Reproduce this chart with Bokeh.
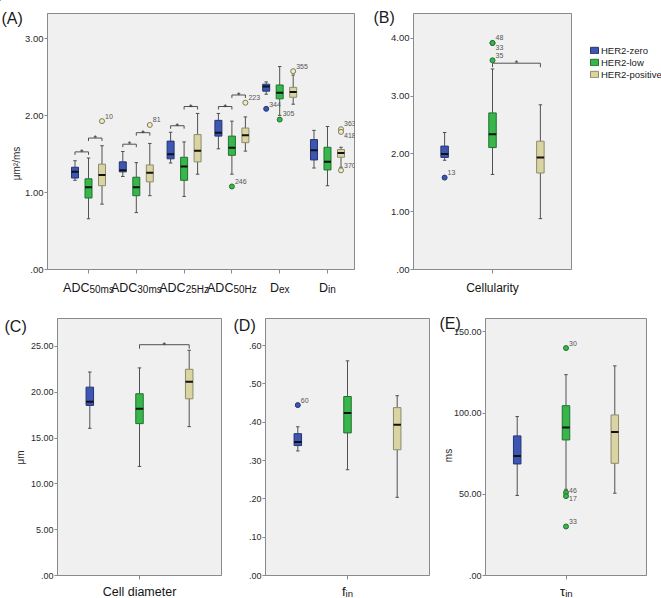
import math

from bokeh.core.properties import value
from bokeh.embed import file_html
from bokeh.layouts import column, row
from bokeh.models import (ColumnDataSource, CustomJSTickFormatter, FixedTicker, GridBox,
                          Legend, LegendItem, Range1d)
from bokeh.plotting import figure
from bokeh.resources import INLINE

FONT = "Liberation Sans"
GROUPS = ["HER2-zero", "HER2-low", "HER2-positive"]
FILLS = ["#3d55b3", "#37b64c", "#d9d4a2"]
EDGES = ["#25356f", "#23702f", "#8d8a6c"]
OUT_FILLS = ["#3d55b3", "#37b64c", "#efecc9"]
OUT_EDGES = ["#25356f", "#23702f", "#7d7a55"]
PLOT_BG = "#f0f0f0"
FRAME = "#8a8a8a"
WHISKER = "#505050"
PAGE_W, PAGE_H = 661, 598

# ---------------- (A) diffusivities, six parameters x three groups ----------------
a_label_main = ["ADC", "ADC", "ADC", "ADC", "D", "D"]
a_label_sub = ["50ms", "30ms", "25Hz", "50Hz", "ex", "in"]
a_yticks = [0.0, 1.0, 2.0, 3.0]

a_lo_zero = [1.16, 1.21, 1.385, 1.57, 2.28, 1.32]
a_q1_zero = [1.19, 1.27, 1.44, 1.735, 2.32, 1.425]
a_med_zero = [1.27, 1.29, 1.50, 1.78, 2.38, 1.55]
a_q3_zero = [1.33, 1.40, 1.67, 1.94, 2.41, 1.69]
a_hi_zero = [1.415, 1.535, 1.785, 2.03, 2.44, 1.81]

a_lo_low = [0.66, 0.74, 0.95, 1.24, 2.005, 1.09]
a_q1_low = [0.93, 0.96, 1.16, 1.485, 2.22, 1.295]
a_med_low = [1.07, 1.07, 1.34, 1.585, 2.30, 1.40]
a_q3_low = [1.18, 1.20, 1.46, 1.735, 2.40, 1.59]
a_hi_low = [1.45, 1.39, 1.66, 1.93, 2.64, 1.86]

a_lo_pos = [0.85, 0.96, 1.24, 1.54, 2.15, 1.33]
a_q1_pos = [1.09, 1.14, 1.40, 1.65, 2.24, 1.46]
a_med_pos = [1.23, 1.26, 1.545, 1.745, 2.31, 1.515]
a_q3_pos = [1.37, 1.36, 1.755, 1.84, 2.37, 1.56]
a_hi_pos = [1.61, 1.64, 2.03, 1.985, 2.53, 1.59]

a_out_cat = [0, 1, 3, 3, 4, 4, 4, 5, 5, 5]
a_out_group = [2, 2, 1, 2, 0, 1, 2, 2, 2, 2]
a_out_value = [1.93, 1.88, 1.08, 2.17, 2.09, 1.95, 2.58, 1.825, 1.79, 1.29]
a_out_case = ["10", "81", "246", "223", "344", "305", "355", "363", "418", "370"]
a_out_dy = [-5, -5, -5, -5, -4, -6, -5, -6, 4, -5]

a_sig_cat = [0, 0, 1, 1, 2, 2, 3, 3]
a_sig_from = [0, 1, 0, 1, 0, 1, 0, 1]
a_sig_to = [1, 2, 1, 2, 1, 2, 1, 2]
a_sig_y = [1.53, 1.71, 1.63, 1.78, 1.87, 2.12, 2.12, 2.27]

# ---------------- (B) cellularity ----------------
b_yticks = [0.0, 1.0, 2.0, 3.0, 4.0]
b_lo = [1.89, 1.645, 0.88]
b_q1 = [1.94, 2.11, 1.67]
b_med = [2.00, 2.34, 1.94]
b_q3 = [2.135, 2.71, 2.22]
b_hi = [2.37, 3.47, 2.85]
b_out_group = [0, 1, 1, 1]
b_out_value = [1.59, 3.92, 3.92, 3.62]
b_out_case = ["13", "48", "33", "35"]
b_out_dy = [-5, -5, 5, -5]
b_sig_from, b_sig_to, b_sig_y = [1], [2], [3.57]

# ---------------- (C) cell diameter ----------------
c_yticks = [0.0, 5.0, 10.0, 15.0, 20.0, 25.0]
c_lo = [16.06, 11.9, 16.24]
c_q1 = [18.56, 16.57, 19.28]
c_med = [18.96, 18.2, 21.13]
c_q3 = [20.55, 19.83, 22.5]
c_hi = [22.2, 22.65, 24.57]
c_sig_from, c_sig_to, c_sig_y = [1], [2], [25.18]

# ---------------- (D) intracellular fraction ----------------
d_yticks = [0.0, 0.1, 0.2, 0.3, 0.4, 0.5, 0.6]
d_lo = [0.325, 0.276, 0.204]
d_q1 = [0.339, 0.372, 0.328]
d_med = [0.348, 0.424, 0.393]
d_q3 = [0.370, 0.467, 0.438]
d_hi = [0.388, 0.560, 0.469]
d_out_group = [0]
d_out_value = [0.4445]
d_out_case = ["60"]
d_out_dy = [-5]

# ---------------- (E) intracellular water exchange time ----------------
e_yticks = [0.0, 50.0, 100.0, 150.0]
e_lo = [49.3, 53.1, 50.7]
e_q1 = [68.7, 83.5, 69.1]
e_med = [73.6, 91.2, 88.4]
e_q3 = [86.0, 104.6, 98.9]
e_hi = [97.9, 123.7, 129.1]
e_out_group = [1, 1, 1, 1]
e_out_value = [140.1, 51.1, 48.9, 30.2]
e_out_case = ["30", "46", "17", "33"]
e_out_dy = [-5, -2, 2, -5]

# Arial-compatible advance widths (em) used to centre the subscripted labels
CHAR_W = {"A": .667, "D": .722, "C": .722, "H": .722, "m": .833, "s": .5, "z": .5,
          "e": .556, "x": .5, "i": .222, "n": .556, "f": .278, "τ": .44}

# geometry of every panel on the page, keyed by figure id
GEOM = {}


def text_width(s, size):
    return sum(CHAR_W.get(ch, .556) for ch in s) * size


def make_panel(origin, width, height, borders, x_range, y_range, yticks, xticks, tick_size):
    left, right, top, bottom = borders
    p = figure(width=width, height=height,
               x_range=Range1d(*x_range), y_range=Range1d(*y_range),
               output_backend="svg", toolbar_location=None,
               min_border_left=left, min_border_right=right,
               min_border_top=top, min_border_bottom=bottom)
    p.background_fill_color = PLOT_BG
    p.border_fill_color = "white"
    p.outline_line_color = FRAME
    p.grid.visible = False

    ya = p.yaxis[0]
    ya.ticker = FixedTicker(ticks=yticks)
    ya.formatter = CustomJSTickFormatter(code="return tick.toFixed(2).replace(/^0\\./, '.');")
    ya.major_tick_out = 3
    ya.major_tick_in = 0
    ya.minor_tick_line_color = None
    ya.axis_line_color = FRAME
    ya.major_tick_line_color = FRAME
    ya.major_label_standoff = 1
    ya.major_label_text_font = FONT
    ya.major_label_text_font_size = tick_size
    ya.major_label_text_color = "#2a2a2a"

    xa = p.xaxis[0]
    xa.ticker = FixedTicker(ticks=xticks)
    xa.formatter = CustomJSTickFormatter(code="return '';")
    xa.major_tick_out = 4
    xa.major_tick_in = 0
    xa.minor_tick_line_color = None
    xa.axis_line_color = FRAME
    xa.major_tick_line_color = FRAME

    fw = width - left - right
    fh = height - top - bottom
    GEOM[p.id] = dict(px_x=fw / (x_range[1] - x_range[0]),
                      px_y=fh / (y_range[1] - y_range[0]),
                      x0=x_range[0], fl=origin[0] + left, ft=origin[1] + top,
                      fw=fw, fh=fh)
    return p


def page_x(p, x):
    g = GEOM[p.id]
    return g["fl"] + (x - g["x0"]) * g["px_x"]


def draw_group(p, xs, lo, q1, med, q3, hi, g, box_px=7.3, cap_px=3.5):
    px_x = GEOM[p.id]["px_x"]
    bw = box_px / px_x
    cw = cap_px / px_x
    src = ColumnDataSource(dict(
        x=xs, lo=lo, q1=q1, med=med, q3=q3, hi=hi,
        bl=[x - bw / 2 for x in xs], br=[x + bw / 2 for x in xs],
        cl=[x - cw / 2 for x in xs], cr=[x + cw / 2 for x in xs]))
    p.segment(x0="x", y0="q3", x1="x", y1="hi", source=src, line_color=WHISKER, line_width=1)
    p.segment(x0="x", y0="lo", x1="x", y1="q1", source=src, line_color=WHISKER, line_width=1)
    p.segment(x0="cl", y0="hi", x1="cr", y1="hi", source=src, line_color=WHISKER, line_width=1)
    p.segment(x0="cl", y0="lo", x1="cr", y1="lo", source=src, line_color=WHISKER, line_width=1)
    r = p.vbar(x="x", width=bw, bottom="q1", top="q3", source=src,
               fill_color=FILLS[g], line_color=EDGES[g], line_width=1)
    p.segment(x0="bl", y0="med", x1="br", y1="med", source=src, line_color="#111111", line_width=2)
    return r


def draw_outliers(p, xs, groups, values, cases, dys):
    for g in range(3):
        idx = [i for i, gg in enumerate(groups) if gg == g]
        if not idx:
            continue
        p.scatter(x=[xs[i] for i in idx], y=[values[i] for i in idx], size=5, marker="circle",
                  fill_color=OUT_FILLS[g], line_color=OUT_EDGES[g], line_width=1)
    src = ColumnDataSource(dict(x=xs, y=values, t=cases, dy=dys))
    p.text(x="x", y="y", text="t", source=src, x_offset=3, y_offset="dy",
           text_font_size="7px", text_color="#555555", text_baseline="middle",
           text_align="left", text_font=value(FONT))


def draw_brackets(p, x_from, x_to, ys, drop_px=4):
    drop = drop_px / GEOM[p.id]["px_y"]
    src = ColumnDataSource(dict(
        x0=x_from, x1=x_to, y=ys, yd=[y - drop for y in ys],
        xm=[(a + b) / 2 for a, b in zip(x_from, x_to)], star=["*"] * len(ys)))
    p.segment(x0="x0", y0="y", x1="x1", y1="y", source=src, line_color=WHISKER, line_width=1)
    p.segment(x0="x0", y0="y", x1="x0", y1="yd", source=src, line_color=WHISKER, line_width=1)
    p.segment(x0="x1", y0="y", x1="x1", y1="yd", source=src, line_color=WHISKER, line_width=1)
    p.text(x="xm", y="y", text="star", source=src, y_offset=0, text_align="center",
           text_baseline="middle", text_font_size="9px", text_color="#333333",
           text_font=value(FONT))


# Transparent page-sized layer that carries the texts sitting outside the plot frames
ov = figure(width=PAGE_W, height=PAGE_H, x_range=Range1d(0, PAGE_W), y_range=Range1d(PAGE_H, 0),
            output_backend="svg", toolbar_location=None, min_border=0,
            x_axis_type=None, y_axis_type=None)
ov.background_fill_alpha = 0
ov.border_fill_alpha = 0
ov.outline_line_color = None
ov.grid.visible = False


def page_text(x, y, text, size, align="left", baseline="alphabetic", angle=0.0, color="#151515"):
    ov.text(x=[x], y=[y], text=[text], text_font=value(FONT), text_font_size=f"{size}px",
            text_align=align, text_baseline=baseline, angle=angle, text_color=color)


def panel_letter(p, text, dx, dy_from_top):
    g = GEOM[p.id]
    page_text(g["fl"] + dx, g["ft"] + dy_from_top, text, 16, color="#1a1a1a")


def axis_title(p, text, dx, y_from_bottom):
    g = GEOM[p.id]
    page_text(g["fl"] + dx, g["ft"] + g["fh"] - y_from_bottom, text, 10,
              align="center", baseline="middle", angle=math.pi / 2, color="#2a2a2a")


def category_label(p, x, main, sub, below_px, main_size=12.5, sub_size=10.0):
    g = GEOM[p.id]
    wm = text_width(main, main_size)
    ws = text_width(sub, sub_size) if sub else 0.0
    anchor = page_x(p, x) + (wm - ws) / 2
    base = g["ft"] + g["fh"] + below_px
    if sub:
        page_text(anchor, base, main, main_size, align="right")
        page_text(anchor, base + 1.5, sub, sub_size, align="left")
    else:
        page_text(page_x(p, x), base, main, main_size, align="center")


# ================= (A) =================
n_a = len(a_label_main)
pa = make_panel((0, 0), 370, 300, (47, 16, 13, 31), (-0.858, 5.565), (0, 3.33), a_yticks,
                list(range(n_a)), "9.5px")
off_a = 13.5 / GEOM[pa.id]["px_x"]
a_stats = [
    (a_lo_zero, a_q1_zero, a_med_zero, a_q3_zero, a_hi_zero),
    (a_lo_low, a_q1_low, a_med_low, a_q3_low, a_hi_low),
    (a_lo_pos, a_q1_pos, a_med_pos, a_q3_pos, a_hi_pos),
]
for g, st in enumerate(a_stats):
    xs = [i + (g - 1) * off_a for i in range(n_a)]
    draw_group(pa, xs, *st, g, box_px=7.0)
draw_outliers(pa, [c + (g - 1) * off_a for c, g in zip(a_out_cat, a_out_group)],
              a_out_group, a_out_value, a_out_case, a_out_dy)
draw_brackets(pa, [c + (g - 1) * off_a for c, g in zip(a_sig_cat, a_sig_from)],
              [c + (g - 1) * off_a for c, g in zip(a_sig_cat, a_sig_to)], a_sig_y, drop_px=3)
for i, (m, s) in enumerate(zip(a_label_main, a_label_sub)):
    category_label(pa, i, m, s, 18)
panel_letter(pa, "(A)", -46, 5)
axis_title(pa, "μm²/ms", -31, 106)

# ================= (B) =================
pb = make_panel((370, 0), 291, 300, (43, 90, 13, 31), (-1.65, 1.65), (0, 4.43), b_yticks,
                [0], "9.5px")
for g in range(3):
    draw_group(pb, [g - 1], [b_lo[g]], [b_q1[g]], [b_med[g]], [b_q3[g]], [b_hi[g]], g, box_px=7.5)
draw_outliers(pb, [g - 1 for g in b_out_group], b_out_group, b_out_value, b_out_case, b_out_dy)
draw_brackets(pb, [g - 1 for g in b_sig_from], [g - 1 for g in b_sig_to], b_sig_y)
category_label(pb, 0, "Cellularity", "", 18, main_size=12)
panel_letter(pb, "(B)", -40, 4)

# group legend to the right of panel (B); its swatch proxies are zero-height bars kept off-page
gb = GEOM[pb.id]
swatches = [ov.vbar(x=[-PAGE_W], bottom=[0], top=[0], width=0,
                    fill_color=FILLS[g], line_color=EDGES[g])
            for g in range(3)]
legend_top = gb["ft"] + 31
legend = Legend(items=[LegendItem(label=GROUPS[g], renderers=[swatches[g]]) for g in range(3)],
                location=(gb["fl"] + gb["fw"] + 18, PAGE_H - legend_top - 36),
                orientation="vertical",
                background_fill_alpha=0, border_line_color=None, padding=0, margin=0,
                spacing=0, glyph_width=10, glyph_height=8, label_height=12,
                label_standoff=2, label_text_font=FONT, label_text_font_size="9.5px",
                label_text_color="#1a1a1a", label_text_baseline="middle")
ov.add_layout(legend)

# ================= (C) =================
pc = make_panel((0, 300), 232, 298, (57, 11, 17, 23), (-1.65, 1.65), (0, 28.04), c_yticks,
                [0], "9px")
for g in range(3):
    draw_group(pc, [g - 1], [c_lo[g]], [c_q1[g]], [c_med[g]], [c_q3[g]], [c_hi[g]], g, box_px=7.5)
draw_brackets(pc, [g - 1 for g in c_sig_from], [g - 1 for g in c_sig_to], c_sig_y)
category_label(pc, 0, "Cell diameter", "", 16, main_size=12.5)
panel_letter(pc, "(C)", -53, 9)
axis_title(pc, "μm", -37, 118)

# ================= (D) =================
pd_ = make_panel((232, 300), 204, 298, (33, 7, 18, 23), (-1.65, 1.65), (0, 0.6705), d_yticks,
                 [0], "9px")
for g in range(3):
    draw_group(pd_, [g - 1], [d_lo[g]], [d_q1[g]], [d_med[g]], [d_q3[g]], [d_hi[g]], g, box_px=7.5)
draw_outliers(pd_, [g - 1 for g in d_out_group], d_out_group, d_out_value, d_out_case, d_out_dy)
category_label(pd_, 0, "f", "in", 16, main_size=13, sub_size=9.5)
panel_letter(pd_, "(D)", -32, 7)

# ================= (E) =================
pe = make_panel((436, 300), 225, 298, (49, 15, 15, 23), (-1.65, 1.65), (0, 158.3), e_yticks,
                [0], "9px")
for g in range(3):
    draw_group(pe, [g - 1], [e_lo[g]], [e_q1[g]], [e_med[g]], [e_q3[g]], [e_hi[g]], g, box_px=7.5)
draw_outliers(pe, [g - 1 for g in e_out_group], e_out_group, e_out_value, e_out_case, e_out_dy)
category_label(pe, 0, "τ", "in", 16, main_size=13, sub_size=9.5)
panel_letter(pe, "(E)", -46, 8)
axis_title(pe, "ms", -37, 120)

panels = column(row(pa, pb), row(pc, pd_, pe))
page = GridBox(children=[(panels, 0, 0), (ov, 0, 0)])
open("out.html", "w").write(file_html(page, INLINE))
